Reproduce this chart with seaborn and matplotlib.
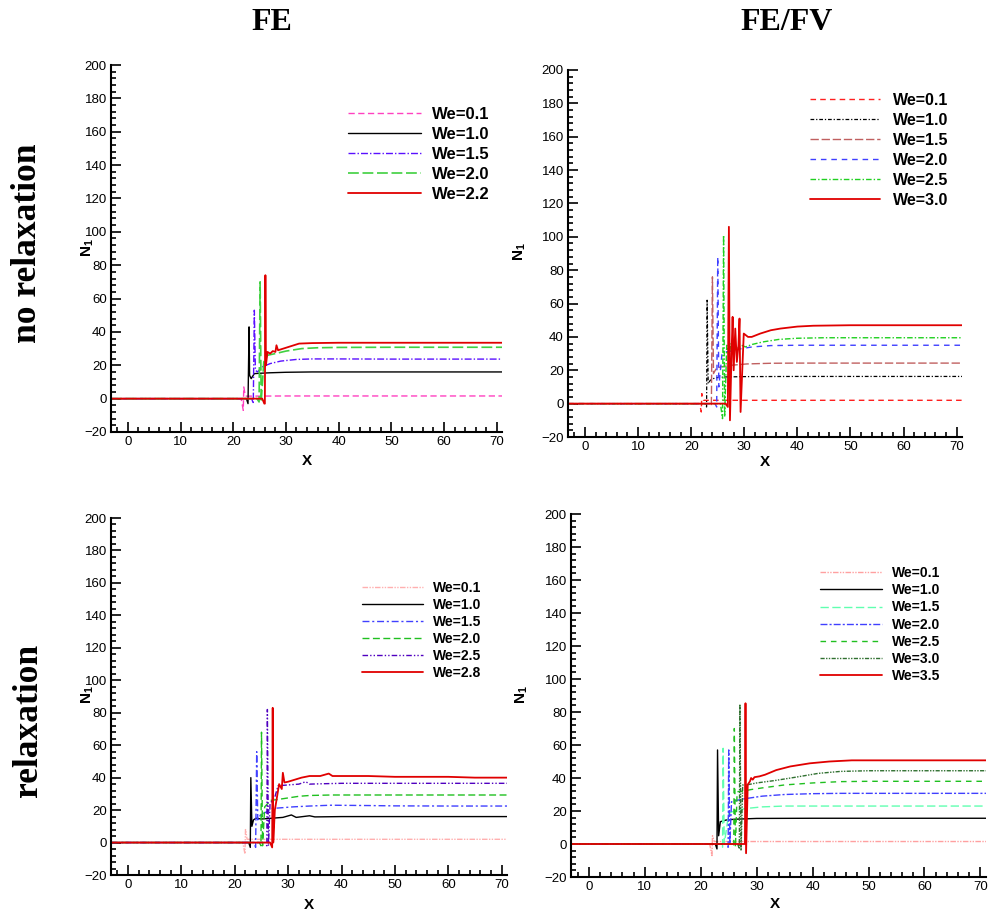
import matplotlib
matplotlib.use("Agg")
import matplotlib.pyplot as plt
import seaborn as sns
from matplotlib.font_manager import FontProperties
from matplotlib.ticker import MultipleLocator

sns.set_style("ticks")
plt.rcParams['font.family'] = ['Liberation Sans', 'DejaVu Sans']
plt.rcParams['mathtext.fontset'] = 'custom'
plt.rcParams['mathtext.bf'] = 'Liberation Sans:bold'
plt.rcParams['mathtext.rm'] = 'Liberation Sans'
for k in ['text.color', 'axes.labelcolor', 'xtick.color', 'ytick.color', 'axes.edgecolor']:
    plt.rcParams[k] = 'black'

# ---------------- data: FE, no relaxation ----------------
tl_labels = ["We=0.1", "We=1.0", "We=1.5", "We=2.0", "We=2.2"]
tl_x01 = [-3.2, 21.5, 21.9, 22.0, 22.3, 23, 30, 40, 50, 60, 71]
tl_y01 = [0, 0, -7, 7, 1.5, 1.5, 1.6, 1.6, 1.6, 1.6, 1.6]
tl_x10 = [-3.2, 22.5, 22.8, 23.0, 23.1, 23.4, 24, 25, 27, 30, 35, 40, 50, 60, 71]
tl_y10 = [0, 0, -3, 43, 14, 12, 15, 15.2, 15.5, 15.8, 16, 16, 16, 16, 16]
tl_x15 = [-3.2, 23.5, 23.8, 24.0, 24.2, 24.6, 25.5, 27, 29, 32, 35, 40, 50, 60, 71]
tl_y15 = [0, 0, -3, 53, 17, 16, 19, 21, 22.5, 23.5, 23.8, 23.8, 23.7, 23.7, 23.7]
tl_x20 = [-3.2, 24.5, 24.9, 25.1, 25.3, 25.8, 26.5, 28, 30, 33, 36, 40, 50, 60, 71]
tl_y20 = [0, 0, -2, 70, -2, 22, 26, 27, 28.5, 30, 30.5, 30.7, 30.8, 30.8, 30.8]
tl_x22 = [-3.2, 25.5, 25.9, 26.0, 26.1, 26.2, 26.5, 27.0, 27.5, 28.0, 28.2, 28.5, 29.5, 31, 32.5, 35, 40, 50, 60, 71]
tl_y22 = [0, 0, -3, -3, 74, 20, 28, 27, 28.5, 28, 32, 29, 30, 31.5, 33, 33.3, 33.5, 33.5, 33.5, 33.5]

# ---------------- data: FE/FV, no relaxation ----------------
tr_labels = ["We=0.1", "We=1.0", "We=1.5", "We=2.0", "We=2.5", "We=3.0"]
tr_x01 = [-3.2, 21.6, 21.9, 22.0, 22.3, 23, 30, 50, 71]
tr_y01 = [0, 0, -5, 6, 2, 2, 2, 2, 2]
tr_x10 = [-3.2, 22.6, 22.9, 23.0, 23.2, 23.6, 24.5, 26.5, 30, 40, 50, 60, 71]
tr_y10 = [0, 0, -2, 62, 12, 14, 15.5, 16, 16.2, 16.3, 16.3, 16.3, 16.3]
tr_x15 = [-3.2, 23.6, 23.8, 24.0, 24.2, 24.7, 25.5, 27.5, 30.5, 35, 40, 50, 60, 71]
tr_y15 = [0, 0, -1, 76, 18, 21, 22, 23, 23.8, 24.2, 24.3, 24.3, 24.3, 24.3]
tr_x20 = [-3.2, 24.5, 24.8, 25.0, 25.2, 25.8, 26.5, 27.5, 29.5, 31.5, 35, 40, 50, 60, 71]
tr_y20 = [0, 0, -2, 88, 10, 30, 31, 31.5, 33, 34, 34.8, 35, 35, 35, 35]
tr_x25 = [-3.2, 25.5, 25.9, 26.1, 26.3, 26.7, 27.1, 27.5, 27.9, 28.3, 28.8, 29.5, 30.2, 31.5, 33.5, 36.5, 40, 45, 50, 60, 71]
tr_y25 = [0, 0, -9, 101, -8, 35, 28, 36, 30, 34, 33, 35, 34, 35.5, 37, 38.5, 39.2, 39.5, 39.5, 39.5, 39.5]
tr_x30 = [-3.2, 26.5, 26.9, 27.1, 27.3, 27.6, 27.8, 28.0, 28.3, 28.6, 28.9, 29.1, 29.3, 29.9, 30.7, 31.4, 33, 35, 36.8, 40, 43, 50, 60, 71]
tr_y30 = [0, 0, -2, 106, -10, 30, 52, 20, 45, 25, 35, 51, -5, 42, 40, 40, 42, 44, 45, 46.2, 46.7, 47, 47, 47]

# ---------------- data: FE, relaxation ----------------
bl_labels = ["We=0.1", "We=1.0", "We=1.5", "We=2.0", "We=2.5", "We=2.8"]
bl_x01 = [-3.2, 21.5, 21.9, 22.0, 22.3, 23, 30, 40, 50, 60, 71]
bl_y01 = [0, 0, -7, 8, 2, 2, 2, 2, 2, 2, 2]
bl_x10 = [-3.2, 22.6, 22.9, 23.0, 23.2, 23.5, 24, 25, 27, 29, 30.6, 31.5, 34, 35, 40, 50, 60, 71]
bl_y10 = [0, 0, -3, 40, 10, 14, 15, 14.5, 15, 15.5, 17, 15.5, 16.5, 15.8, 16, 16, 16, 16]
bl_x15 = [-3.2, 23.6, 23.9, 24.1, 24.3, 24.8, 26, 27, 29, 31, 34, 38, 45, 50, 60, 71]
bl_y15 = [0, 0, -3, 56, 14, 17, 19, 21, 21.5, 22, 22.5, 23, 22.8, 22.6, 22.5, 22.5]
bl_x20 = [-3.2, 24.6, 24.9, 25.0, 25.2, 25.6, 26.7, 28, 30, 32, 34, 38, 45, 50, 60, 71]
bl_y20 = [0, 0, -2, 68, -2, 22, 26, 26.5, 27.5, 28.5, 29, 29.3, 29.3, 29.3, 29.3, 29.3]
bl_x25 = [-3.2, 25.7, 26.0, 26.1, 26.3, 26.6, 27.5, 28.1, 30, 32, 33.3, 34, 36, 40, 45, 50, 60, 71]
bl_y25 = [0, 0, -2, 82, -2, 24, 28, 35, 35.5, 36, 37.5, 36, 36.2, 36.5, 36.5, 36.5, 36.5, 36.5]
bl_x28 = [-3.2, 26.6, 27.0, 27.1, 27.2, 27.5, 28.0, 28.3, 28.8, 29.0, 29.3, 30, 31, 32.5, 34, 36, 37.6, 38.3, 40, 45, 50, 55, 60, 65, 71]
bl_y28 = [0, 0, -3, 83, 0, 20, 30, 36, 33, 43, 37, 37.5, 38.5, 40, 41, 41, 42.5, 41, 41, 41, 40.5, 40.5, 40.5, 40, 40]

# ---------------- data: FE/FV, relaxation ----------------
br_labels = ["We=0.1", "We=1.0", "We=1.5", "We=2.0", "We=2.5", "We=3.0", "We=3.5"]
br_x01 = [-3.2, 21.6, 22.0, 22.1, 22.4, 23, 30, 40, 50, 60, 71]
br_y01 = [0, 0, -7, 5, 1.5, 1.5, 1.5, 1.5, 1.5, 1.5, 1.5]
br_x10 = [-3.2, 22.6, 22.9, 23.0, 23.2, 23.5, 24.5, 26, 30, 40, 50, 60, 71]
br_y10 = [0, 0, -3, 57, 5, 13.5, 14.5, 15, 15.5, 15.6, 15.6, 15.6, 15.6]
br_x15 = [-3.2, 23.6, 23.9, 24.0, 24.2, 25, 26, 28, 31, 35, 40, 50, 60, 71]
br_y15 = [0, 0, -2, 58, 0, 18.6, 20, 21.5, 22.5, 23, 23, 23, 23, 23]
br_x20 = [-3.2, 24.6, 24.9, 25.0, 25.2, 25.5, 26.5, 28, 31, 35, 40, 45, 50, 60, 71]
br_y20 = [0, 0, -2, 57, 0, 25.6, 26.5, 27.5, 29, 30, 30.5, 30.7, 30.7, 30.7, 30.7]
br_x25 = [-3.2, 25.6, 25.9, 26.0, 26.2, 26.5, 27.5, 29, 31, 35, 40, 45, 50, 60, 71]
br_y25 = [0, 0, -2, 70, -2, 31.7, 32, 33, 34, 35.8, 37, 37.8, 38, 38, 38]
br_x30 = [-3.2, 26.6, 26.9, 27.0, 27.2, 27.5, 28.5, 30, 33.3, 37, 41, 45, 50, 60, 71]
br_y30 = [0, 0, -3, 84.6, -4, 35.8, 36, 37, 38.5, 40.5, 42.8, 44, 44.4, 44.4, 44.4]
br_x35 = [-3.2, 27.7, 27.9, 28.0, 28.1, 28.4, 28.8, 29.0, 29.3, 29.6, 30.5, 31.5, 33.5, 36, 39.5, 43, 47, 55, 71]
br_y35 = [0, 0, 0, 85.3, -5.6, 36, 38, 40, 39, 40.5, 41, 42, 44.8, 47, 48.9, 50, 50.7, 50.7, 50.7]

col_titles = ["FE", "FE/FV"]
row_titles = ["no relaxation", "relaxation"]
x_ticks = [0, 10, 20, 30, 40, 50, 60, 70]
y_ticks = [-20, 0, 20, 40, 60, 80, 100, 120, 140, 160, 180, 200]

W, H = 991, 913
fig = plt.figure(figsize=(W / 100, H / 100), dpi=100)


def rect(l, t, r, b):
    return [l / W, 1 - b / H, (r - l) / W, (b - t) / H]


panels = [
    dict(box=(111, 65, 502, 432),
         series=[(tl_x01, tl_y01, "#ff40c0", (0, (4.5, 2.5)), 1.0),
                 (tl_x10, tl_y10, "#000000", "-", 1.0),
                 (tl_x15, tl_y15, "#5a10ff", (0, (5, 1.5, 1, 1.5)), 1.0),
                 (tl_x20, tl_y20, "#40d040", (0, (6.5, 2.2)), 1.2),
                 (tl_x22, tl_y22, "#e00000", "-", 1.3)],
         labels=tl_labels, leg=(348, 107), fs=12, hl=4.4, htp=0.66, ls=0.3,
         ylab=(88, 248), xlab=(307, 461)),
    dict(box=(568, 70, 962, 437),
         series=[(tr_x01, tr_y01, "#ff2020", (0, (4, 3)), 1.0),
                 (tr_x10, tr_y10, "#000000", (0, (3, 1.5, 1, 1.5)), 0.9),
                 (tr_x15, tr_y15, "#c06060", (0, (6, 2)), 1.0),
                 (tr_x20, tr_y20, "#4040ff", (0, (4, 3.5)), 1.0),
                 (tr_x25, tr_y25, "#20d020", (0, (4, 1.5, 1, 1.5)), 1.0),
                 (tr_x30, tr_y30, "#e00000", "-", 1.3)],
         labels=tr_labels, leg=(810, 93), fs=11.5, hl=4.4, htp=0.8, ls=0.31,
         ylab=(520, 252), xlab=(765, 462)),
    dict(box=(111, 518, 507, 875),
         series=[(bl_x01, bl_y01, "#ffb0b0", (0, (4, 1, 1, 1, 1, 1)), 1.0),
                 (bl_x10, bl_y10, "#000000", "-", 1.0),
                 (bl_x15, bl_y15, "#4040ff", (0, (5, 2, 1.5, 2)), 1.0),
                 (bl_x20, bl_y20, "#20c020", (0, (5, 2.5)), 1.0),
                 (bl_x25, bl_y25, "#5000c0", (0, (4, 1.5, 1, 1.5, 1, 1.5)), 1.0),
                 (bl_x28, bl_y28, "#e00000", "-", 1.3)],
         labels=bl_labels, leg=(362, 581), fs=10, hl=4.4, htp=0.7, ls=0.22,
         ylab=(88, 695), xlab=(309, 905)),
    dict(box=(571, 514, 986, 877),
         series=[(br_x01, br_y01, "#ffa0a0", (0, (4, 1, 1, 1, 1, 1)), 1.0),
                 (br_x10, br_y10, "#000000", "-", 1.0),
                 (br_x15, br_y15, "#60ffb0", (0, (6, 2.5)), 1.0),
                 (br_x20, br_y20, "#4040ff", (0, (5, 1.5, 1.5, 1.5)), 1.0),
                 (br_x25, br_y25, "#20c020", (0, (4, 3.5)), 1.0),
                 (br_x30, br_y30, "#307030", (0, (3, 1, 1, 1, 1, 1)), 1.0),
                 (br_x35, br_y35, "#e00000", "-", 1.3)],
         labels=br_labels, leg=(820, 566), fs=10, hl=4.45, htp=0.7, ls=0.23,
         ylab=(522, 695), xlab=(775, 904)),
]

for p in panels:
    l, t, r, b = p["box"]
    ax = fig.add_axes(rect(l, t, r, b))
    for (xs, ys, c, lsty, lw), lab in zip(p["series"], p["labels"]):
        sns.lineplot(x=xs, y=ys, ax=ax, color=c, linestyle=lsty, linewidth=lw,
                     estimator=None, sort=False, label=lab)
    ax.set_xlim(-3.2, 71)
    ax.set_ylim(-20, 200)
    ax.set_xticks(x_ticks)
    ax.set_yticks(y_ticks)
    ax.xaxis.set_minor_locator(MultipleLocator(2))
    ax.yaxis.set_minor_locator(MultipleLocator(4))
    ax.tick_params(which='both', direction='in', top=False, right=False,
                   labelsize=9.5, colors='black', width=1.2, pad=3)
    ax.tick_params(which='major', length=7)
    ax.tick_params(which='minor', length=3.5)
    for s in ['top', 'right']:
        ax.spines[s].set_visible(False)
    for s in ['left', 'bottom']:
        ax.spines[s].set_linewidth(1.5)
        ax.spines[s].set_color('black')
    ax.set_xlabel("X", fontsize=11, fontweight='bold')
    ax.set_ylabel(r"$\mathbf{N_1}$", fontsize=11)
    xl, yl = p["ylab"]
    ax.yaxis.set_label_coords((xl - l) / (r - l), 1 - (yl - t) / (b - t))
    xl, yl = p["xlab"]
    ax.xaxis.set_label_coords((xl - l) / (r - l), 1 - (yl - t) / (b - t))
    ax.xaxis.label.set_va('center')
    ax.yaxis.label.set_va('center')
    h, lb = ax.get_legend_handles_labels()
    lx, ly = p["leg"]
    ax.legend(h, lb, loc='upper left', bbox_to_anchor=(lx / W, 1 - ly / H),
              bbox_transform=fig.transFigure, frameon=False,
              prop=FontProperties(family='Liberation Sans', weight='bold', size=p["fs"]),
              handlelength=p["hl"], handletextpad=p["htp"], labelspacing=p["ls"],
              borderpad=0, borderaxespad=0)

tfont = dict(family=['Liberation Serif', 'DejaVu Serif'], weight='bold', color='black')
fig.text(272 / W, 1 - 22 / H, col_titles[0], ha='center', va='center', fontsize=23, **tfont)
fig.text(787 / W, 1 - 22 / H, col_titles[1], ha='center', va='center', fontsize=23, **tfont)
fig.text(28 / W, 1 - 243 / H, row_titles[0], ha='center', va='center', rotation=90, fontsize=25.5, **tfont)
fig.text(28 / W, 1 - 720 / H, row_titles[1], ha='center', va='center', rotation=90, fontsize=25.5, **tfont)

fig.savefig("out.png", dpi=100)
